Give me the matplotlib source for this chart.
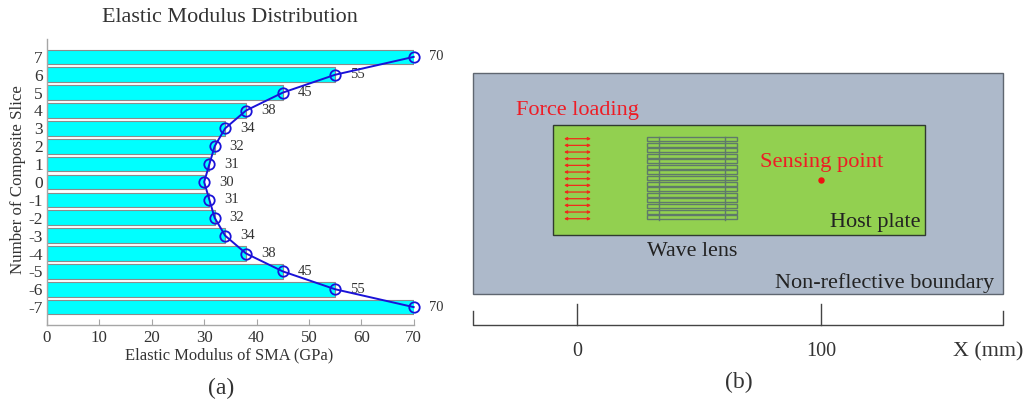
import numpy as np
from matplotlib import pyplot as plt
from matplotlib.patches import Rectangle

plt.rcParams['font.family'] = ['Liberation Serif', 'DejaVu Sans']
plt.rcParams['axes.unicode_minus'] = False

W, H = 1030, 405

# panel (a)
slices = [7, 6, 5, 4, 3, 2, 1, 0, -1, -2, -3, -4, -5, -6, -7]
modulus = [70, 55, 45, 38, 34, 32, 31, 30, 31, 32, 34, 38, 45, 55, 70]
x_ticks = [0, 10, 20, 30, 40, 50, 60, 70]

# panel (b)
scale_ticks = [0, 100]
scale_labels = ['0', '100']
n_lens_strips = 15
n_force_arrows = 13

text_col = '#333333'
axis_col = '#a6a6a6'
blue = '#1a12d8'

fig = plt.figure(figsize=(W / 100, H / 100), dpi=100)

# whole figure in pixels, used for schematic and captions
bg = fig.add_axes([0, 0, 1, 1])
bg.set_xlim(0, W)
bg.set_ylim(H, 0)
bg.axis('off')

ax = fig.add_axes([47 / W, 1 - 325 / H, (413.7 - 47) / W, (325 - 39) / H])
ax.barh(slices, modulus, height=0.82, color='#00ffff', edgecolor='#8c8c8c', linewidth=0.8)
ax.plot(modulus, slices, color=blue, lw=1.4, marker='o', ms=7.5, mfc='none', mec=blue, mew=1.3, clip_on=False, zorder=5)
for v, s in zip(modulus, slices):
    ax.annotate(str(v), (v, s), xytext=(15, 0), textcoords='offset pixels', va='center', ha='left',
                fontsize=10.5, color=text_col, annotation_clip=False)
ax.set_xlim(0, 70)
ax.set_ylim(-8, 8)
ax.set_xticks(x_ticks)
ax.set_yticks(slices)
ax.tick_params(axis='x', direction='in', length=4, width=0.8, color=axis_col, labelsize=12.2, labelcolor=text_col, pad=3.5)
ax.tick_params(axis='y', length=0, labelsize=12.5, labelcolor=text_col, pad=3)
for side in ['top', 'right']:
    ax.spines[side].set_visible(False)
for side in ['left', 'bottom']:
    ax.spines[side].set_color(axis_col)
    ax.spines[side].set_linewidth(1.0)

bg.text(229.5, 17, 'Elastic Modulus Distribution', ha='center', va='center', fontsize=15.9, color=text_col)
bg.text(229, 355, 'Elastic Modulus of SMA (GPa)', ha='center', va='center', fontsize=11.9, color=text_col)
bg.text(18.5, 180, 'Number of Composite Slice', ha='center', va='center', rotation=90, fontsize=12.2, color=text_col)
bg.text(221, 388, '(a)', ha='center', va='center', fontsize=17, color=text_col)

# schematic
bg.add_patch(Rectangle((473, 73), 530, 221, fc='#adb9ca', ec='#5f6670', lw=1.0))
bg.add_patch(Rectangle((553, 125), 372, 110, fc='#92d050', ec='#303a30', lw=1.0))

for y in np.linspace(138.7, 218.7, n_force_arrows):
    bg.annotate('', xy=(591, y), xytext=(564, y),
                arrowprops=dict(arrowstyle='<|-|>', color='#f02a1a', lw=0.9, mutation_scale=4, shrinkA=0, shrinkB=0))

strip_edges = np.linspace(137, 220.7, n_lens_strips + 1)
for y0, y1 in zip(strip_edges[:-1], strip_edges[1:]):
    bg.add_patch(Rectangle((647, y0), 90, y1 - y0 - 1.6, fc='none', ec='#5f7a6a', lw=1.0))
for x in [659, 725]:
    bg.plot([x, x], [137, 220], color='#5f7a6a', lw=1.0)

bg.plot([821], [180], 'o', color='#ee1111', ms=3.6)
bg.text(516, 111, 'Force loading', ha='left', va='center', fontsize=16, color='#ee1c25')
bg.text(760, 163, 'Sensing point', ha='left', va='center', fontsize=16.2, color='#ee1c25')
bg.text(830, 222, 'Host plate', ha='left', va='center', fontsize=16, color='#222222')
bg.text(647, 251, 'Wave lens', ha='left', va='center', fontsize=15.8, color='#222222')
bg.text(775, 283, 'Non-reflective boundary', ha='left', va='center', fontsize=16, color='#222222')

# scale bar: 2.44 px per mm, zero at x=577
bg.plot([473, 473, 1003, 1003], [311, 324.5, 324.5, 311], color='#444444', lw=1.0)
for t, lab in zip(scale_ticks, scale_labels):
    px = 577 + 2.44 * t
    bg.plot([px, px], [304, 324.5], color='#444444', lw=1.0)
    bg.text(px, 352, lab, ha='center', va='center', fontsize=14.5, color=text_col)
bg.text(988.5, 352, 'X (mm)', ha='center', va='center', fontsize=15.8, color=text_col)
bg.text(739, 382, '(b)', ha='center', va='center', fontsize=17, color=text_col)

fig.savefig('out.png', dpi=100)
